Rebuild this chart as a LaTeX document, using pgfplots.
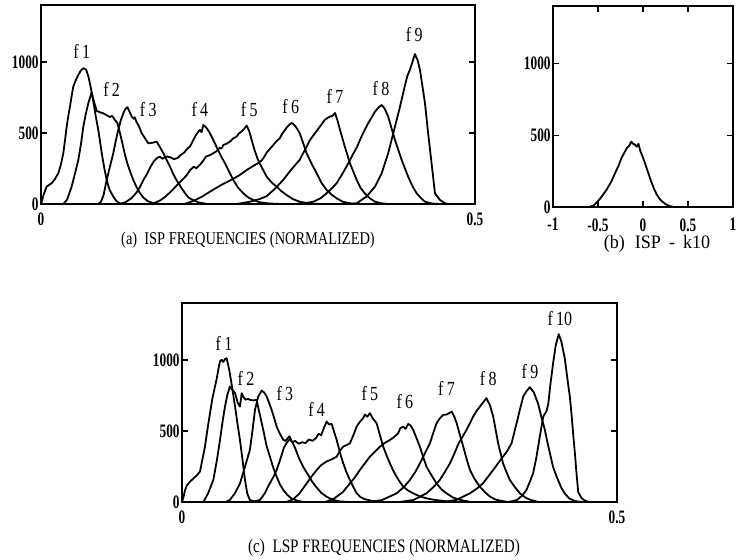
\documentclass[border=0pt]{standalone}
\usepackage{fontspec}
\setmainfont{Liberation Serif}
\newfontfamily\capfont{Liberation Serif}[FakeStretch=0.8]
\newfontfamily\capbfont{Liberation Serif}[FakeStretch=0.95]
\newfontfamily\tickfont{Liberation Serif}[FakeStretch=0.7]
\usepackage{pgfplots}
\pgfplotsset{compat=1.18}
\pgfplotsset{
  panel/.style={scale only axis, anchor=south west, ymin=0, ymax=1400,
    ytick={0,500,1000}, yticklabels={0,500,1000},
    tick align=inside, major tick length=3pt,
    axis line style={line width=1pt},
    tick style={black, line width=0.7pt},
    ticklabel style={font=\tickfont\bfseries\fontsize{9.5}{10}\selectfont},
    yticklabel style={inner sep=1pt},
    xticklabel style={inner sep=1pt, yshift=-3pt},
    clip=false}
}
\tikzset{
  curve/.style={black, line width=0.9pt, mark=none, line join=round},
  flab/.style={font=\capfont\fontsize{10}{11}\selectfont, inner sep=0pt}
}
\begin{document}
\begin{tikzpicture}[x=1pt,y=1pt]
\useasboundingbox (0,0) rectangle (368,-280);
% ---------------- (a)
\begin{axis}[panel, at={(20.5pt,-102pt)}, width=217pt, height=99.5pt,
  xmin=0, xmax=0.5, xtick={0,0.5}, xticklabels={0,0.5}]
\addplot[curve] coordinates {(0,0)(0.0015,30)(0.0027,60)(0.0065,122)(0.0095,135)(0.0123,146)(0.016,175)(0.020,216)(0.023,280)(0.0257,357)(0.0277,450)(0.0296,545)(0.0315,620)(0.0334,685)(0.0353,760)(0.0372,826)(0.040,870)(0.043,908)(0.046,940)(0.0488,955)(0.052,945)(0.0545,900)(0.057,830)(0.060,732)(0.063,620)(0.066,521)(0.068,440)(0.070,357)(0.073,250)(0.0757,169)(0.079,100)(0.0833,52)(0.087,20)(0.0907,5)(0.100,0)};
\addplot[curve] coordinates {(0.0257,0)(0.030,30)(0.0353,122)(0.039,210)(0.043,310)(0.046,420)(0.0488,545)(0.0515,630)(0.0545,709)(0.0584,785)(0.061,720)(0.0642,655)(0.068,645)(0.0718,638)(0.0755,625)(0.0795,612)(0.082,620)(0.0852,591)(0.088,570)(0.091,500)(0.094,420)(0.097,340)(0.100,275)(0.1035,215)(0.1063,169)(0.110,120)(0.114,77)(0.118,45)(0.123,20)(0.130,5)(0.138,0)};
\addplot[curve] coordinates {(0.066,0)(0.069,15)(0.072,60)(0.0757,169)(0.0795,265)(0.0833,357)(0.086,440)(0.089,521)(0.092,590)(0.095,640)(0.0975,670)(0.0995,681)(0.102,650)(0.1045,615)(0.107,600)(0.108,610)(0.110,578)(0.113,545)(0.116,498)(0.119,470)(0.1236,427)(0.128,430)(0.1333,439)(0.137,400)(0.141,357)(0.1448,310)(0.1486,263)(0.152,215)(0.156,169)(0.161,120)(0.166,75)(0.170,45)(0.175,28)(0.182,10)(0.192,0)};
\addplot[curve] coordinates {(0.092,0)(0.098,15)(0.104,40)(0.110,80)(0.114,120)(0.118,169)(0.122,210)(0.126,260)(0.130,300)(0.134,325)(0.137,333)(0.140,318)(0.1445,335)(0.149,328)(0.153,316)(0.157,322)(0.161,345)(0.165,362)(0.169,392)(0.1716,404)(0.1755,450)(0.179,490)(0.183,521)(0.185,505)(0.187,556)(0.190,540)(0.193,515)(0.1966,474)(0.200,430)(0.204,380)(0.208,330)(0.212,286)(0.217,225)(0.2215,169)(0.227,115)(0.2331,75)(0.239,45)(0.2446,28)(0.252,12)(0.262,4)(0.275,0)};
\addplot[curve] coordinates {(0.125,0)(0.132,10)(0.138,28)(0.144,55)(0.150,90)(0.156,128)(0.162,165)(0.1675,200)(0.172,240)(0.176,262)(0.179,251)(0.183,275)(0.187,305)(0.190,333)(0.195,345)(0.2015,368)(0.206,395)(0.208,390)(0.210,415)(0.214,425)(0.2177,439)(0.2215,462)(0.2254,474)(0.228,496)(0.231,509)(0.234,528)(0.237,552)(0.240,510)(0.2427,451)(0.246,380)(0.250,310)(0.255,250)(0.260,192)(0.266,150)(0.2715,122)(0.277,90)(0.283,63)(0.290,35)(0.298,16)(0.308,5)(0.320,0)};
\addplot[curve] coordinates {(0.165,0)(0.175,20)(0.185,50)(0.198,99)(0.208,135)(0.2177,165)(0.228,200)(0.237,239)(0.2446,268)(0.2485,282)(0.254,305)(0.257,330)(0.260,362)(0.264,390)(0.267,410)(0.271,440)(0.275,462)(0.278,495)(0.281,520)(0.284,545)(0.287,562)(0.289,570)(0.292,555)(0.295,530)(0.298,498)(0.302,430)(0.306,357)(0.312,280)(0.3176,216)(0.323,150)(0.329,99)(0.335,65)(0.3406,40)(0.348,15)(0.358,3)(0.370,0)};
\addplot[curve] coordinates {(0.225,0)(0.240,15)(0.252,35)(0.260,55)(0.270,110)(0.279,169)(0.288,240)(0.298,310)(0.304,380)(0.310,451)(0.3157,498)(0.3214,545)(0.325,575)(0.327,592)(0.330,605)(0.333,615)(0.336,620)(0.3387,640)(0.3415,590)(0.3445,521)(0.350,404)(0.356,286)(0.3637,169)(0.368,115)(0.373,75)(0.379,40)(0.3848,16)(0.392,5)(0.400,0)};
\addplot[curve] coordinates {(0.290,0)(0.305,6)(0.3137,16)(0.322,40)(0.329,75)(0.335,110)(0.3406,146)(0.346,200)(0.352,263)(0.356,310)(0.360,357)(0.364,400)(0.3675,451)(0.372,510)(0.377,568)(0.381,610)(0.3848,650)(0.389,680)(0.3925,697)(0.396,670)(0.400,615)(0.404,530)(0.4078,451)(0.4155,310)(0.423,192)(0.428,125)(0.4328,75)(0.438,40)(0.4424,16)(0.450,4)(0.458,0)};
\addplot[curve] coordinates {(0.355,0)(0.3637,5)(0.375,52)(0.3848,122)(0.3925,216)(0.400,357)(0.4078,544)(0.4136,685)(0.419,826)(0.422,900)(0.425,944)(0.428,1000)(0.4308,1055)(0.434,1010)(0.4366,944)(0.4424,709)(0.446,498)(0.450,286)(0.4539,75)(0.4597,28)(0.4654,5)(0.470,0)};
\node[flab] at (axis cs:0.0469,1072) {f\,1};
\node[flab] at (axis cs:0.0814,803) {f\,2};
\node[flab] at (axis cs:0.1236,662) {f\,3};
\node[flab] at (axis cs:0.183,662) {f\,4};
\node[flab] at (axis cs:0.240,662) {f\,5};
\node[flab] at (axis cs:0.2877,685) {f\,6};
\node[flab] at (axis cs:0.3387,755) {f\,7};
\node[flab] at (axis cs:0.3917,815) {f\,8};
\node[flab] at (axis cs:0.430,1190) {f\,9};
\end{axis}
% ---------------- (b)
\begin{axis}[panel, at={(276.5pt,-103.5pt)}, width=90pt, height=100.5pt,
  xmin=-1, xmax=1, xtick={-1,-0.5,0,0.5,1}, xticklabels={-1,-0.5,0,0.5,1},
  xticklabel style={yshift=-1.5pt}]
\addplot[curve] coordinates {(-0.60,0)(-0.55,10)(-0.50,40)(-0.45,80)(-0.40,125)(-0.35,180)(-0.30,250)(-0.27,290)(-0.24,340)(-0.21,375)(-0.18,410)(-0.15,430)(-0.13,455)(-0.11,440)(-0.09,435)(-0.07,420)(-0.05,440)(-0.03,390)(0.0,345)(0.03,290)(0.06,235)(0.09,180)(0.12,130)(0.15,90)(0.18,60)(0.21,40)(0.25,20)(0.30,6)(0.35,0)};
\end{axis}
% ---------------- (c)
\begin{axis}[panel, at={(91pt,-251pt)}, width=217.5pt, height=99.5pt,
  xmin=0, xmax=0.5, xtick={0,0.5}, xticklabels={0,0.5}]
\addplot[curve] coordinates {(0,0)(0.0015,30)(0.0034,80)(0.0054,115)(0.0092,143)(0.013,165)(0.0175,190)(0.0207,215)(0.0235,300)(0.0264,389)(0.029,500)(0.0322,625)(0.035,730)(0.0379,812)(0.040,870)(0.0417,930)(0.0437,990)(0.0456,1000)(0.0475,985)(0.0494,1005)(0.0513,1012)(0.0532,960)(0.055,906)(0.058,790)(0.061,671)(0.0638,550)(0.0666,437)(0.0695,300)(0.0724,155)(0.075,60)(0.078,14)(0.085,0)};
\addplot[curve] coordinates {(0.0245,0)(0.030,60)(0.036,155)(0.040,290)(0.0437,437)(0.0465,560)(0.0494,671)(0.052,750)(0.055,812)(0.058,790)(0.061,765)(0.064,700)(0.0666,671)(0.0686,765)(0.0705,740)(0.073,720)(0.076,725)(0.0785,718)(0.082,715)(0.0858,718)(0.0885,640)(0.0934,507)(0.097,400)(0.101,319)(0.105,240)(0.1088,178)(0.1125,125)(0.1164,85)(0.121,50)(0.1257,26)(0.133,8)(0.140,0)};
\addplot[curve] coordinates {(0.050,0)(0.055,14)(0.0607,60)(0.0667,131)(0.072,240)(0.078,366)(0.081,500)(0.0839,648)(0.0875,740)(0.0916,784)(0.0945,770)(0.0973,742)(0.100,700)(0.103,648)(0.106,590)(0.1088,530)(0.1125,480)(0.1164,437)(0.119,430)(0.121,445)(0.1235,462)(0.126,430)(0.130,380)(0.135,300)(0.140,240)(0.145,190)(0.150,140)(0.155,100)(0.160,65)(0.166,38)(0.173,15)(0.182,4)(0.192,0)};
\addplot[curve] coordinates {(0.080,0)(0.0896,14)(0.095,60)(0.100,120)(0.1045,170)(0.1088,225)(0.113,300)(0.117,380)(0.120,413)(0.1235,440)(0.127,420)(0.130,430)(0.134,410)(0.138,420)(0.142,415)(0.146,440)(0.150,430)(0.154,450)(0.157,480)(0.160,470)(0.163,520)(0.1663,566)(0.169,545)(0.172,550)(0.1745,500)(0.1778,437)(0.181,360)(0.1853,272)(0.189,210)(0.193,155)(0.197,105)(0.2007,61)(0.205,35)(0.210,20)(0.218,8)(0.230,0)};
\addplot[curve] coordinates {(0.120,0)(0.128,20)(0.135,60)(0.1433,131)(0.149,180)(0.1548,225)(0.160,260)(0.166,284)(0.172,300)(0.1778,319)(0.1815,360)(0.1853,389)(0.189,400)(0.193,413)(0.197,470)(0.2007,530)(0.204,560)(0.208,589)(0.2105,615)(0.213,600)(0.216,625)(0.219,590)(0.2237,554)(0.2275,470)(0.2313,389)(0.235,330)(0.239,272)(0.2428,220)(0.2467,178)(0.2505,140)(0.2543,108)(0.260,80)(0.2658,61)(0.273,40)(0.281,26)(0.290,15)(0.297,10)(0.310,0)};
\addplot[curve] coordinates {(0.165,0)(0.175,25)(0.185,70)(0.193,131)(0.199,175)(0.2045,225)(0.210,270)(0.216,319)(0.222,355)(0.2275,389)(0.233,415)(0.239,437)(0.2435,455)(0.2485,484)(0.251,520)(0.2543,530)(0.257,515)(0.260,549)(0.2625,540)(0.2658,507)(0.2695,450)(0.2735,389)(0.277,320)(0.281,249)(0.287,185)(0.2926,131)(0.298,90)(0.304,61)(0.312,30)(0.320,14)(0.332,0)};
\addplot[curve] coordinates {(0.215,0)(0.230,14)(0.2467,61)(0.255,105)(0.262,155)(0.268,210)(0.2735,272)(0.279,340)(0.285,413)(0.289,490)(0.2926,554)(0.2965,590)(0.3003,613)(0.304,615)(0.307,625)(0.310,636)(0.313,600)(0.3157,554)(0.3195,470)(0.3233,389)(0.327,305)(0.331,225)(0.3365,160)(0.3424,108)(0.348,70)(0.354,38)(0.360,18)(0.365,10)(0.375,0)};
\addplot[curve] coordinates {(0.250,0)(0.266,14)(0.281,61)(0.289,105)(0.2964,155)(0.302,210)(0.308,272)(0.313,340)(0.318,413)(0.3225,460)(0.327,507)(0.331,555)(0.3347,601)(0.3385,640)(0.3424,671)(0.346,700)(0.350,730)(0.354,680)(0.3577,601)(0.3634,413)(0.369,272)(0.373,210)(0.3768,155)(0.3826,105)(0.3884,61)(0.395,30)(0.401,14)(0.410,0)};
\addplot[curve] coordinates {(0.300,0)(0.315,14)(0.331,61)(0.339,95)(0.346,131)(0.352,180)(0.3577,225)(0.363,270)(0.369,319)(0.374,360)(0.3788,413)(0.3846,554)(0.388,640)(0.3922,742)(0.396,780)(0.3999,808)(0.4045,770)(0.4094,690)(0.413,600)(0.417,510)(0.420,420)(0.423,340)(0.4266,245)(0.4305,180)(0.436,100)(0.440,60)(0.445,25)(0.452,6)(0.460,0)};
\addplot[curve] coordinates {(0.375,0)(0.385,14)(0.391,45)(0.396,85)(0.400,145)(0.4036,202)(0.4075,319)(0.411,450)(0.4152,600)(0.419,640)(0.421,690)(0.4235,830)(0.4266,977)(0.4295,1100)(0.433,1180)(0.436,1130)(0.440,1010)(0.4438,830)(0.4458,742)(0.448,600)(0.4496,480)(0.4516,343)(0.4535,200)(0.4554,70)(0.459,30)(0.462,14)(0.467,0)};
\node[flab] at (axis cs:0.0483,1113) {f\,1};
\node[flab] at (axis cs:0.0735,871) {f\,2};
\node[flab] at (axis cs:0.1183,765) {f\,3};
\node[flab] at (axis cs:0.1547,648) {f\,4};
\node[flab] at (axis cs:0.216,765) {f\,5};
\node[flab] at (axis cs:0.2562,706) {f\,6};
\node[flab] at (axis cs:0.304,800) {f\,7};
\node[flab] at (axis cs:0.352,871) {f\,8};
\node[flab] at (axis cs:0.400,918) {f\,9};
\node[flab] at (axis cs:0.4343,1294) {f\,10};
\end{axis}
% ---------------- captions
\node[font=\capfont\fontsize{9}{10}\selectfont] at (124pt,-120pt) {(a)\ \ ISP FREQUENCIES (NORMALIZED)};
\node[font=\capbfont\fontsize{9.5}{10}\selectfont] at (328.5pt,-122pt) {(b)\hspace{5pt}ISP\hspace{4pt}-\hspace{4pt}k10};
\node[font=\capfont\fontsize{9.5}{10}\selectfont] at (192pt,-274pt) {(c)\ \ LSP FREQUENCIES (NORMALIZED)};
\end{tikzpicture}
\end{document}
